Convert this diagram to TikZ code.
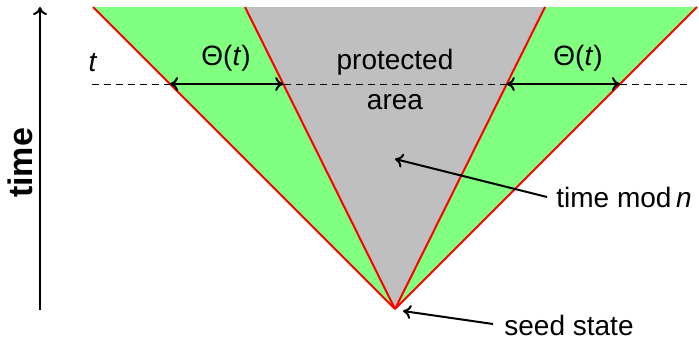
\documentclass[tikz,border=0pt]{standalone}
\usepackage{fontspec}
\setmainfont{Liberation Sans}
\usetikzlibrary{calc,arrows.meta}
\begin{document}
\begin{tikzpicture}[x=0.5pt,y=-0.5pt,
  lbl/.style={font=\fontsize{14}{20}\selectfont, inner sep=0pt},
  edge/.style={red, line width=1pt},
  blk/.style={black, line width=1pt},
  tip/.style={-{To[length=4pt,width=7pt]}},
  dtip/.style={{To[length=4pt,width=7pt]}-{To[length=4pt,width=7pt]}}]
\useasboundingbox (0,0) rectangle (699,338);
\coordinate (apex) at (395,309);
\coordinate (OL) at (93,7);
\coordinate (IL) at (245,7);
\coordinate (IR) at (545,7);
\coordinate (OR) at (697,7);
\fill[green!50] (apex) -- (OL) -- (OR) -- cycle;
\fill[gray!50] (apex) -- (IL) -- (IR) -- cycle;
\draw[edge] (apex) -- (OL);
\draw[edge] (apex) -- (IL);
\draw[edge] (apex) -- (IR);
\draw[edge] (apex) -- (OR);
% dashed time line
\coordinate (d1) at (92,84);
\coordinate (d2) at (690,84);
\draw[dash pattern=on 3.5pt off 2.5pt, line width=0.5pt] (d1) -- (d2);
\coordinate (aOL) at ($(apex)!225/302!(OL)$);
\coordinate (aIL) at ($(apex)!225/302!(IL)$);
\coordinate (aIR) at ($(apex)!225/302!(IR)$);
\coordinate (aOR) at ($(apex)!225/302!(OR)$);
\draw[blk,dtip] (aOL) -- (aIL);
\draw[blk,dtip] (aIR) -- (aOR);
\node[lbl] (th1) at (226,58) {Θ(\textit{t})};
\node[lbl] (th2) at (578,58) {Θ(\textit{t})};
\node[lbl] (tl) at (93,63) {\textit{t}};
\node[lbl, align=center] (prot) at (395,79) {protected\\area};
% time axis
\coordinate (ax0) at (40,310);
\coordinate (ax1) at (40,7);
\draw[blk,tip] (ax0) -- (ax1);
\node[font=\fontsize{17}{20}\selectfont\bfseries, rotate=90, inner sep=0pt] (tm) at (20,163) {time};
% annotations
\node[lbl, anchor=west] (mod) at (556,197) {time mod\,\textit{n}};
\coordinate (modtip) at (395,159);
\draw[blk,tip] (mod.west) ++(-9,0) coordinate (modtail) (modtail) -- (modtip);
\node[lbl, anchor=west] (seed) at (504,325) {seed state};
\coordinate (seedtip) at (403,311);
\coordinate (seedtail) at (493,324);
\draw[blk,tip] (seedtail) -- (seedtip);
\end{tikzpicture}
\end{document}
